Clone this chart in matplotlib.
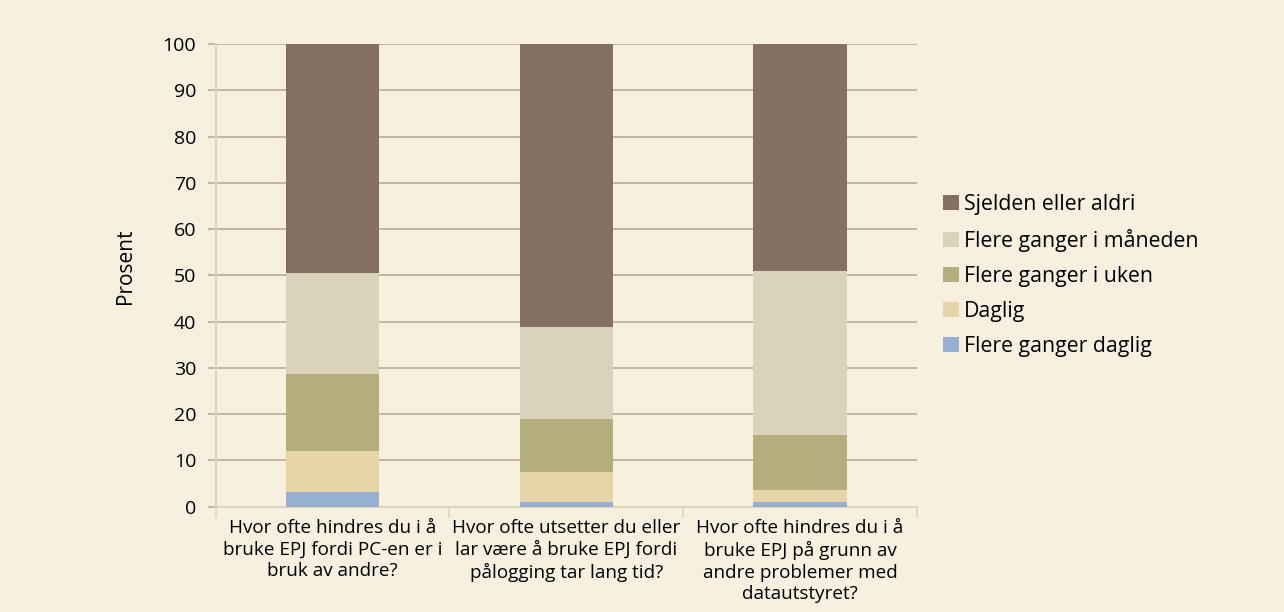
import matplotlib.pyplot as plt
import numpy as np

plt.rcParams['font.family'] = ['Open Sans', 'DejaVu Sans']

categories = ["Hvor ofte hindres du i å\nbruke EPJ fordi PC-en er i\nbruk av andre?",
              "Hvor ofte utsetter du eller\nlar være å bruke EPJ fordi\npålogging tar lang tid?",
              "Hvor ofte hindres du i å\nbruke EPJ på grunn av\nandre problemer med\ndatautstyret?"]
series = ["Flere ganger daglig", "Daglig", "Flere ganger i uken",
          "Flere ganger i måneden", "Sjelden eller aldri"]
flere_daglig = [3.2, 1.1, 1.1]
daglig = [8.9, 6.5, 2.6]
flere_uken = [16.6, 11.4, 11.9]
flere_maaneden = [21.8, 19.9, 35.4]
sjelden = [49.5, 61.1, 49.0]
colors = ["#97AFD0", "#E5D5A8", "#B4AE7E", "#DAD2BA", "#837060"]

bg = "#F7F0DE"
fig = plt.figure(figsize=(12.84, 6.12), dpi=100, facecolor=bg)
ax = fig.add_axes([0.168, 0.172, 0.546, 0.756], facecolor=bg)

x = np.arange(len(categories))
bottom = np.zeros(len(categories))
handles = []
for name, vals, c in zip(series, [flere_daglig, daglig, flere_uken, flere_maaneden, sjelden], colors):
    b = ax.bar(x, vals, 0.4, bottom=bottom, color=c, label=name, zorder=3)
    handles.append(b)
    bottom += np.array(vals)

ax.set_xlim(-0.5, 2.5)
ax.set_ylim(0, 100)
ax.set_yticks(range(0, 101, 10))
ax.yaxis.grid(True, color="#B8AC98", linewidth=1.2, zorder=0)
ax.set_xticks(x)
ax.set_xticklabels(categories, fontsize=13.6, linespacing=1.25)
ax.tick_params(axis='x', length=0, pad=9)
ax.set_xticks([-0.5, 0.5, 1.5, 2.5], minor=True)
ax.tick_params(axis='x', which='minor', length=8, color="#DDD5C0", width=1.2)
ax.tick_params(axis='y', labelsize=14, length=6, color="#B8AC98", width=1.2, pad=8)
for s in ['top', 'right']:
    ax.spines[s].set_visible(False)
for s in ['left', 'bottom']:
    ax.spines[s].set_color("#DDD5C0")
    ax.spines[s].set_linewidth(1.5)
ax.set_ylabel("Prosent", fontsize=15)
ax.yaxis.set_label_coords(-0.113, 0.52)

leg = ax.legend(handles[::-1], series[::-1], loc='center left', bbox_to_anchor=(1.01, 0.5),
                frameon=False, fontsize=15.3, handlelength=0.75, handleheight=0.75,
                handletextpad=0.25, labelspacing=0.66)

fig.savefig("out.png", dpi=100, facecolor=bg)
